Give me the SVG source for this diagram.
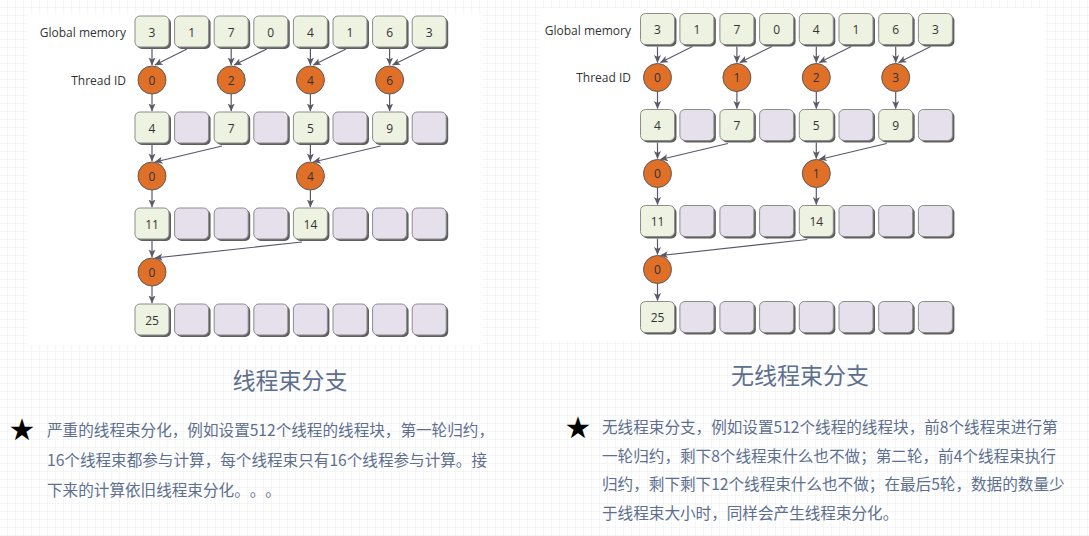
<svg xmlns="http://www.w3.org/2000/svg" width="1089" height="536" viewBox="0 0 1089 536">
<style>
.sh{fill:#5f5f5f}
.g{fill:#eef2e1;stroke:#8c8c8c;stroke-width:1}
.p{fill:#e6e0ec;stroke:#8c8c8c;stroke-width:1}
.c{fill:#e07028;stroke:#5a5a5a;stroke-width:1}
.v{font-family:"Open Sans","Noto Sans",sans-serif;font-size:12px;fill:#333;text-anchor:middle;dominant-baseline:central}
.lab{font-family:"Open Sans","Noto Sans",sans-serif;font-size:12px;fill:#333;text-anchor:end;dominant-baseline:central}
.ttl{font-family:"Noto Sans CJK SC","Noto Sans",sans-serif;font-size:23px;fill:#5d6f8f;text-anchor:middle}
.body{font-family:"Noto Sans CJK SC","Liberation Sans",sans-serif;font-size:15.6px;fill:#5d6f8f;text-spacing-trim:space-all}
.star{font-family:"DejaVu Sans",sans-serif;font-size:30px;fill:#000;text-anchor:middle;dominant-baseline:central}
.a{stroke:#5c5868;stroke-width:1.2;fill:none;marker-end:url(#ah)}
</style>
<defs>
<pattern id="grid" width="8" height="8" patternUnits="userSpaceOnUse">
<path d="M8 0V8M0 8H8" stroke="#ececec" stroke-width="1" fill="none"/>
</pattern>
<marker id="ah" viewBox="0 0 8 8" refX="7.5" refY="4" markerWidth="8" markerHeight="8" markerUnits="userSpaceOnUse" orient="auto">
<path d="M0,0.5 L8,4 L0,7.5 L2,4 z" fill="#5c5868"/>
</marker>
<g id="gb"><rect class="sh" x="2" y="2" width="34" height="31" rx="5"/><rect class="g" x="0" y="0" width="34" height="31" rx="5"/></g>
<g id="pb"><rect class="sh" x="2" y="2" width="34" height="31" rx="5"/><rect class="p" x="0" y="0" width="34" height="31" rx="5"/></g>
</defs>
<rect width="1089" height="536" fill="#fff"/>
<rect width="1089" height="536" fill="url(#grid)"/>
<rect x="28" y="15" width="455" height="330" fill="#fff"/>
<rect x="540" y="8" width="505" height="333" fill="#fff"/>

<!-- LEFT DIAGRAM -->
<g id="left-labels">
<text class="lab" x="126" y="32">Global memory</text>
<text class="lab" x="126" y="80">Thread ID</text>
</g>
<g id="left-connectors">
<path class="a" d="M152 49V65"/><path class="a" d="M187 49L155 65"/>
<path class="a" d="M231.2 49V65"/><path class="a" d="M266.8 49L234.2 65"/>
<path class="a" d="M310.4 49V65"/><path class="a" d="M346 49L313.4 65"/>
<path class="a" d="M389.6 49V65"/><path class="a" d="M425.2 49L392.6 65"/>
<path class="a" d="M152 94V111"/><path class="a" d="M231.2 94V111"/><path class="a" d="M310.4 94V111"/><path class="a" d="M389.6 94V111"/>
<path class="a" d="M152 145V161"/><path class="a" d="M222 146L155 162"/>
<path class="a" d="M310.4 145V161"/><path class="a" d="M380.6 146L313.4 162"/>
<path class="a" d="M152 190V207"/><path class="a" d="M310.4 190V207"/>
<path class="a" d="M152 241V257"/><path class="a" d="M302 242L155 258"/>
<path class="a" d="M152 286V303"/>
</g>
<g id="left-mem">
<use href="#gb" x="135" y="16"/><use href="#gb" x="174.6" y="16"/><use href="#gb" x="214.2" y="16"/><use href="#gb" x="253.8" y="16"/>
<use href="#gb" x="293.4" y="16"/><use href="#gb" x="333" y="16"/><use href="#gb" x="372.6" y="16"/><use href="#gb" x="412.2" y="16"/>
<text class="v" x="152" y="32">3</text><text class="v" x="191.6" y="32">1</text><text class="v" x="231.2" y="32">7</text><text class="v" x="270.8" y="32">0</text>
<text class="v" x="310.4" y="32">4</text><text class="v" x="350" y="32">1</text><text class="v" x="389.6" y="32">6</text><text class="v" x="429.2" y="32">3</text>
</g>
<g id="left-t1">
<circle class="c" cx="152" cy="80" r="14"/><text class="v" x="152" y="80">0</text>
<circle class="c" cx="231.2" cy="80" r="14"/><text class="v" x="231.2" y="80">2</text>
<circle class="c" cx="310.4" cy="80" r="14"/><text class="v" x="310.4" y="80">4</text>
<circle class="c" cx="389.6" cy="80" r="14"/><text class="v" x="389.6" y="80">6</text>
</g>
<g id="left-r2">
<use href="#gb" x="135" y="112"/><use href="#pb" x="174.6" y="112"/><use href="#gb" x="214.2" y="112"/><use href="#pb" x="253.8" y="112"/>
<use href="#gb" x="293.4" y="112"/><use href="#pb" x="333" y="112"/><use href="#gb" x="372.6" y="112"/><use href="#pb" x="412.2" y="112"/>
<text class="v" x="152" y="128">4</text><text class="v" x="231.2" y="128">7</text><text class="v" x="310.4" y="128">5</text><text class="v" x="389.6" y="128">9</text>
</g>
<g id="left-t2">
<circle class="c" cx="152" cy="176" r="14"/><text class="v" x="152" y="176">0</text>
<circle class="c" cx="310.4" cy="176" r="14"/><text class="v" x="310.4" y="176">4</text>
</g>
<g id="left-r3">
<use href="#gb" x="135" y="208"/><use href="#pb" x="174.6" y="208"/><use href="#pb" x="214.2" y="208"/><use href="#pb" x="253.8" y="208"/>
<use href="#gb" x="293.4" y="208"/><use href="#pb" x="333" y="208"/><use href="#pb" x="372.6" y="208"/><use href="#pb" x="412.2" y="208"/>
<text class="v" x="152" y="224">11</text><text class="v" x="310.4" y="224">14</text>
</g>
<g id="left-t3">
<circle class="c" cx="152" cy="272" r="14"/><text class="v" x="152" y="272">0</text>
</g>
<g id="left-r4">
<use href="#gb" x="135" y="304"/><use href="#pb" x="174.6" y="304"/><use href="#pb" x="214.2" y="304"/><use href="#pb" x="253.8" y="304"/>
<use href="#pb" x="293.4" y="304"/><use href="#pb" x="333" y="304"/><use href="#pb" x="372.6" y="304"/><use href="#pb" x="412.2" y="304"/>
<text class="v" x="152" y="320">25</text>
</g>

<!-- RIGHT DIAGRAM -->
<g id="right-labels">
<text class="lab" x="631" y="30">Global memory</text>
<text class="lab" x="631" y="77.5">Thread ID</text>
</g>
<g id="right-connectors">
<path class="a" d="M657.5 46.5V62.5"/><path class="a" d="M692.5 46.5L660.5 62.5"/>
<path class="a" d="M736.9 46.5V62.5"/><path class="a" d="M771.9 46.5L739.9 62.5"/>
<path class="a" d="M816.3 46.5V62.5"/><path class="a" d="M851.3 46.5L819.3 62.5"/>
<path class="a" d="M895.7 46.5V62.5"/><path class="a" d="M930.7 46.5L898.7 62.5"/>
<path class="a" d="M657.5 91.5V108.5"/><path class="a" d="M736.9 91.5V108.5"/><path class="a" d="M816.3 91.5V108.5"/><path class="a" d="M895.7 91.5V108.5"/>
<path class="a" d="M657.5 142.5V158.5"/><path class="a" d="M727.9 143.5L660.5 159.5"/>
<path class="a" d="M816.3 142.5V158.5"/><path class="a" d="M886.7 143.5L819.3 159.5"/>
<path class="a" d="M657.5 187.5V204.5"/><path class="a" d="M816.3 187.5V204.5"/>
<path class="a" d="M657.5 238.5V254.5"/><path class="a" d="M807.3 239.5L660.5 255.5"/>
<path class="a" d="M657.5 283.5V300.5"/>
</g>
<g id="right-mem">
<use href="#gb" x="640.5" y="13.5"/><use href="#gb" x="679.9" y="13.5"/><use href="#gb" x="719.9" y="13.5"/><use href="#gb" x="759.6" y="13.5"/>
<use href="#gb" x="799.3" y="13.5"/><use href="#gb" x="839" y="13.5"/><use href="#gb" x="878.7" y="13.5"/><use href="#gb" x="918.4" y="13.5"/>
<text class="v" x="657.5" y="29.5">3</text><text class="v" x="696.9" y="29.5">1</text><text class="v" x="736.9" y="29.5">7</text><text class="v" x="776.6" y="29.5">0</text>
<text class="v" x="816.3" y="29.5">4</text><text class="v" x="856" y="29.5">1</text><text class="v" x="895.7" y="29.5">6</text><text class="v" x="935.4" y="29.5">3</text>
</g>
<g id="right-t1">
<circle class="c" cx="657.5" cy="77.5" r="14"/><text class="v" x="657.5" y="77.5">0</text>
<circle class="c" cx="736.9" cy="77.5" r="14"/><text class="v" x="736.9" y="77.5">1</text>
<circle class="c" cx="816.3" cy="77.5" r="14"/><text class="v" x="816.3" y="77.5">2</text>
<circle class="c" cx="895.7" cy="77.5" r="14"/><text class="v" x="895.7" y="77.5">3</text>
</g>
<g id="right-r2">
<use href="#gb" x="640.5" y="109.5"/><use href="#pb" x="679.9" y="109.5"/><use href="#gb" x="719.9" y="109.5"/><use href="#pb" x="759.6" y="109.5"/>
<use href="#gb" x="799.3" y="109.5"/><use href="#pb" x="839" y="109.5"/><use href="#gb" x="878.7" y="109.5"/><use href="#pb" x="918.4" y="109.5"/>
<text class="v" x="657.5" y="125.5">4</text><text class="v" x="736.9" y="125.5">7</text><text class="v" x="816.3" y="125.5">5</text><text class="v" x="895.7" y="125.5">9</text>
</g>
<g id="right-t2">
<circle class="c" cx="657.5" cy="173.5" r="14"/><text class="v" x="657.5" y="173.5">0</text>
<circle class="c" cx="816.3" cy="173.5" r="14"/><text class="v" x="816.3" y="173.5">1</text>
</g>
<g id="right-r3">
<use href="#gb" x="640.5" y="205.5"/><use href="#pb" x="679.9" y="205.5"/><use href="#pb" x="719.9" y="205.5"/><use href="#pb" x="759.6" y="205.5"/>
<use href="#gb" x="799.3" y="205.5"/><use href="#pb" x="839" y="205.5"/><use href="#pb" x="878.7" y="205.5"/><use href="#pb" x="918.4" y="205.5"/>
<text class="v" x="657.5" y="221.5">11</text><text class="v" x="816.3" y="221.5">14</text>
</g>
<g id="right-t3">
<circle class="c" cx="657.5" cy="269.5" r="14"/><text class="v" x="657.5" y="269.5">0</text>
</g>
<g id="right-r4">
<use href="#gb" x="640.5" y="301.5"/><use href="#pb" x="679.9" y="301.5"/><use href="#pb" x="719.9" y="301.5"/><use href="#pb" x="759.6" y="301.5"/>
<use href="#pb" x="799.3" y="301.5"/><use href="#pb" x="839" y="301.5"/><use href="#pb" x="878.7" y="301.5"/><use href="#pb" x="918.4" y="301.5"/>
<text class="v" x="657.5" y="317.5">25</text>
</g>

<!-- TEXT -->
<g id="left-text">
<text class="ttl" x="290" y="389">线程束分支</text>
<text class="star" x="22" y="429">★</text>
<text class="body" x="47" y="436">严重的线程束分化，例如设置512个线程的线程块，第一轮归约，</text>
<text class="body" x="47" y="466">16个线程束都参与计算，每个线程束只有16个线程参与计算。接</text>
<text class="body" x="47" y="496">下来的计算依旧线程束分化。。。</text>
</g>
<g id="right-text">
<text class="ttl" x="800" y="384">无线程束分支</text>
<text class="star" x="578" y="427">★</text>
<text class="body" x="602" y="433">无线程束分支，例如设置512个线程的线程块，前8个线程束进行第</text>
<text class="body" x="602" y="461.5">一轮归约，剩下8个线程束什么也不做；第二轮，前4个线程束执行</text>
<text class="body" x="602" y="490">归约，剩下剩下12个线程束什么也不做；在最后5轮，数据的数量少</text>
<text class="body" x="602" y="518.5">于线程束大小时，同样会产生线程束分化。</text>
</g>
</svg>
